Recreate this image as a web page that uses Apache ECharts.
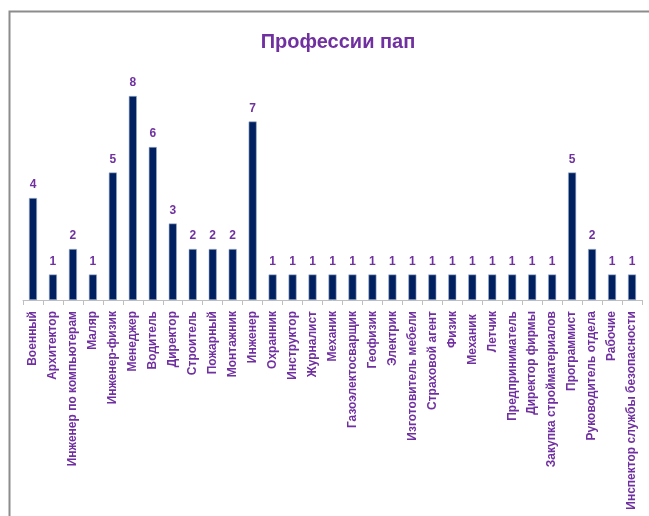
<!DOCTYPE html>
<html>
<head>
<meta charset="utf-8">
<script src="https://cdn.jsdelivr.net/npm/echarts@6/dist/echarts.min.js"></script>
<style>
  html, body { margin: 0; padding: 0; background: #fff; }
  #chart { width: 649px; height: 516px; }
</style>
</head>
<body>
<div id="chart"></div>
<script>
// Профессии пап — количество по каждой профессии
const professions = [
  'Военный', 'Архитектор', 'Инженер по компьютерам', 'Маляр', 'Инженер-физик',
  'Менеджер', 'Водитель', 'Директор', 'Строитель', 'Пожарный', 'Монтажник',
  'Инженер', 'Охранник', 'Инструктор', 'Журналист', 'Механик',
  'Газоэлектосварщик', 'Геофизик', 'Электрик', 'Изготовитель мебели',
  'Страховой агент', 'Физик', 'Механик ', 'Летчик', 'Предприниматель',
  'Директор фирмы', 'Закупка стройматериалов', 'Программист',
  'Руководитель отдела', 'Рабочие', 'Инспектор службы безопасности'
];
const counts = [
  4, 1, 2, 1, 5,
  8, 6, 3, 2, 2, 2,
  7, 1, 1, 1, 1,
  1, 1, 1, 1,
  1, 1, 1, 1, 1,
  1, 1, 5,
  2, 1, 1
];
const chartTitle = 'Профессии пап';

const purple = '#7030A0';
const font = 'Liberation Sans, Arial, sans-serif';
const chart = echarts.init(document.getElementById('chart'), null, { renderer: 'canvas' });
chart.setOption({
  backgroundColor: '#ffffff',
  animation: false,
  title: {
    text: chartTitle,
    left: 333,
    top: 27,
    textAlign: 'center',
    textStyle: { color: purple, fontSize: 20, fontWeight: 'bold', fontFamily: font }
  },
  graphic: [{
    type: 'rect',
    shape: { x: 9.5, y: 11.5, width: 700, height: 600 },
    style: { fill: 'none', stroke: '#8c8c8c', lineWidth: 2 },
    silent: true, z: -1
  }],
  grid: { left: 23, right: 7, top: 96, bottom: 216, containLabel: false },
  xAxis: {
    type: 'category',
    data: professions,
    axisLine: { lineStyle: { color: '#bfbfbf', width: 1 } },
    axisTick: { show: true, length: 5, lineStyle: { color: '#bfbfbf' } },
    axisLabel: {
      rotate: 90,
      interval: 0,
      margin: 11,
      color: purple,
      fontSize: 12,
      fontWeight: 'bold',
      fontFamily: font
    }
  },
  yAxis: {
    type: 'value',
    min: 0,
    max: 8,
    show: false,
    splitLine: { show: false }
  },
  series: [{
    type: 'bar',
    data: counts,
    barWidth: 8,
    itemStyle: { color: '#002060', borderColor: '#9fb0cc', borderWidth: 0.6 },
    label: {
      show: true,
      position: 'top',
      distance: 7,
      color: purple,
      fontSize: 12,
      fontWeight: 'bold',
      fontFamily: font
    }
  }]
});
</script>
</body>
</html>
